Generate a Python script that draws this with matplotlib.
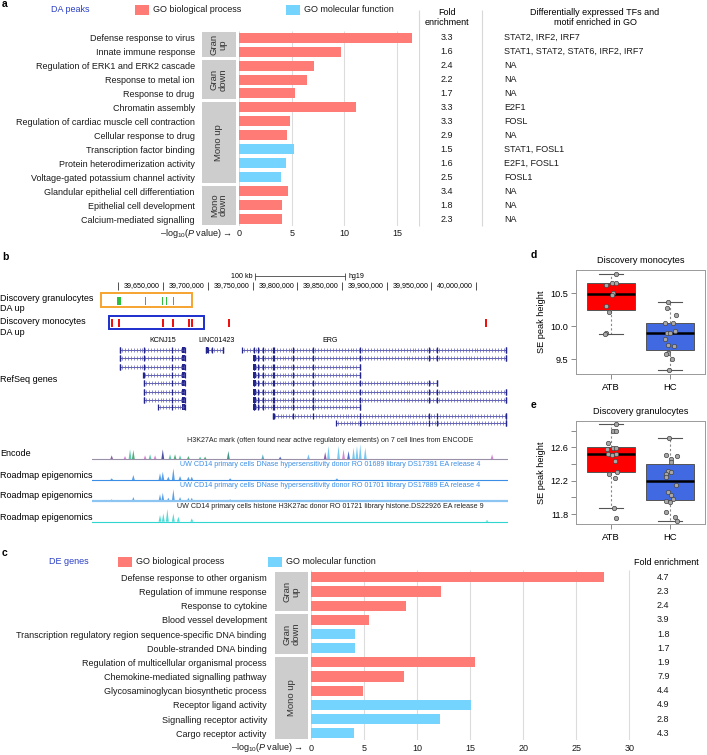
import numpy as np
import matplotlib.pyplot as plt
from matplotlib.patches import Rectangle, Polygon
from matplotlib.transforms import offset_copy

plt.rcParams['font.family'] = ['Liberation Sans', 'DejaVu Sans']
plt.rcParams['mathtext.fontset'] = 'custom'
plt.rcParams['mathtext.rm'] = 'Liberation Sans'
plt.rcParams['mathtext.it'] = 'Liberation Sans:italic'

W, H = 707, 755
RED = '#ff7b76'
BLUE = '#75d4fe'
GREY = '#cdcdcd'

# ---------------- panel a : DA peaks GO terms
a_terms = ["Defense response to virus", "Innate immune response",
           "Regulation of ERK1 and ERK2 cascade", "Response to metal ion",
           "Response to drug", "Chromatin assembly",
           "Regulation of cardiac muscle cell contraction", "Cellular response to drug",
           "Transcription factor binding", "Protein heterodimerization activity",
           "Voltage-gated potassium channel activity",
           "Glandular epithelial cell differentiation", "Epithelial cell development",
           "Calcium-mediated signalling"]
a_logp = [16.4, 9.7, 7.15, 6.45, 5.3, 11.1, 4.8, 4.6, 5.2, 4.45, 3.95, 4.65, 4.1, 4.08]
a_type = ["BP"] * 8 + ["MF"] * 3 + ["BP"] * 3
a_fold = ["3.3", "1.6", "2.4", "2.2", "1.7", "3.3", "3.3", "2.9", "1.5", "1.6", "2.5",
          "3.4", "1.8", "2.3"]
a_tfs = ["STAT2, IRF2, IRF7", "STAT1, STAT2, STAT6, IRF2, IRF7", "NA", "NA", "NA", "E2F1",
         "FOSL", "NA", "STAT1, FOSL1", "E2F1, FOSL1", "FOSL1", "NA", "NA", "NA"]
a_groups = [("Gran\nup", 0, 1), ("Gran\ndown", 2, 4), ("Mono up", 5, 10), ("Mono\ndown", 11, 13)]
a_ticks = [0, 5, 10, 15]

# ---------------- panel c : DE genes GO terms
c_terms = ["Defense response to other organism", "Regulation of immune response",
           "Response to cytokine", "Blood vessel development",
           "Transcription regulatory region sequence-specific DNA binding",
           "Double-stranded DNA binding", "Regulation of multicellular organismal process",
           "Chemokine-mediated signalling pathway", "Glycosaminoglycan biosynthetic process",
           "Receptor ligand activity", "Signalling receptor activity", "Cargo receptor activity"]
c_logp = [27.65, 12.28, 8.93, 5.44, 4.15, 4.15, 15.46, 8.8, 4.9, 15.05, 12.16, 4.05]
c_type = ["BP"] * 4 + ["MF"] * 2 + ["BP"] * 3 + ["MF"] * 3
c_fold = ["4.7", "2.3", "2.4", "3.9", "1.8", "1.7", "1.9", "7.9", "4.4", "4.9", "2.8", "4.3"]
c_groups = [("Gran\nup", 0, 2), ("Gran\ndown", 3, 5), ("Mono up", 6, 11)]
c_ticks = [0, 5, 10, 15, 20, 25, 30]

# ---------------- panel b : genome browser (positions in kb, chr21 hg19)
coord_ticks = [39600, 39650, 39700, 39750, 39800, 39850, 39900, 39950, 40000]
gran_peaks = [(39599.0, 39603.3), (39629.3, 39630.5), (39649.1, 39650.3),
              (39653.5, 39654.7), (39660.9, 39662.1)]
mono_peaks = [(39591.9, 39594.1), (39600.0, 39602.2), (39648.6, 39650.8), (39660.4, 39662.6),
              (39677.7, 39679.9), (39681.7, 39683.9), (39722.7, 39724.9), (40009.9, 40012.1)]
gran_box = (39580.3, 39682.8)
mono_box = (39590.0, 39696.3)

kcnj15_exons = [39601.9, 39628.7, 39660.1]
kcnj15_cds = (39671.3, 39674.6)
kcnj15_tx = [(39601.9, 39674.6), (39601.9, 39674.6), (39601.9, 39674.6), (39628.0, 39674.6),
             (39628.7, 39674.6), (39628.7, 39674.6), (39628.7, 39674.6), (39644.4, 39674.6)]
linc_tx = (39698.1, 39717.5)
linc_exons = [39698.1, 39700.0, 39705.0, 39717.5]
erg_exons = [39752.1, 39756.6, 39762.2, 39772.7, 39774.2, 39795.4, 39817.5, 39869.6,
             39946.8, 39955.9, 40033.3]
erg_cds = (39750.2, 39754.2)
erg_tx = [(39738.7, 40033.3), (39751.8, 40033.3), (39751.8, 39869.6), (39751.8, 39869.6),
          (39751.8, 39955.9), (39751.8, 40033.3), (39751.8, 40033.3), (39751.8, 39869.6),
          (39772.7, 40033.3), (39843.2, 40033.3)]

enc_pos = [39592.6, 39607.5, 39613.1, 39616.8, 39629.9, 39635.5, 39641.1, 39649.7, 39657.8,
           39663.4, 39669.0, 39678.3, 39691.4, 39697.0, 39723.0, 39761.5, 39780.9, 39812.5,
           39831.2, 39834.9, 39846.1, 39851.7, 39857.3, 39862.9, 39866.7, 39870.4, 39876.0,
           40017.7]
enc_h = [4, 3.3, 10, 9.3, 4, 5, 4, 10, 5, 5, 4, 3.3, 2.7, 2.7, 8.3, 5, 2.7, 5,
         7.3, 13.3, 13.3, 10, 8.3, 11.7, 13.3, 15, 11.7, 5]
enc_col = ['#7b3fa0', '#d070d0', '#40c0a0', '#30a060', '#d070d0', '#40c0a0', '#d070d0',
           '#303090', '#40c0a0', '#30a060', '#40c0a0', '#30a060', '#40c0a0', '#30a060',
           '#208070', '#40a0c0', '#3050c0', '#60b0f0', '#7b3fa0', '#60c0f0', '#60c0f0',
           '#d070d0', '#3050c0', '#60c0f0', '#60c0f0', '#60c0f0', '#60c0f0', '#d070d0']
dnase1_pos = [39592.6, 39616.8, 39646.6, 39649.7, 39655.9, 39661.5, 39669.0, 39678.3,
              39682.1, 39725.0, 39844.3]
dnase1_h = [1.7, 5, 6.7, 8.3, 3.3, 11.7, 4, 3.3, 3.3, 1.7, 1.7]
dnase2_pos = [39592.6, 39616.8, 39646.6, 39649.7, 39655.9, 39661.5, 39669.0, 39678.3,
              39682.1, 39725.0]
dnase2_h = [1.7, 4, 6.7, 8.3, 3.3, 11.7, 4, 3.3, 3.3, 1.7]
hist_pos = [39646.6, 39650.3, 39654.8, 39661.5, 39667.1, 39682.1, 40012.1]
hist_h = [6.7, 8.3, 12.7, 8.3, 5, 3.3, 1.7]

# ---------------- panels d, e : SE peak height
d_atb = [10.79, 10.66, 10.66, 10.62, 10.51, 10.47, 10.31, 10.22, 9.90, 9.88]
d_atb_jit = [0.095, 0.028, 0.084, -0.084, 0.039, 0.017, -0.084, -0.028, -0.073, -0.1]
d_hc = [10.36, 10.27, 10.17, 10.05, 10.05, 9.92, 9.90, 9.89, 9.80, 9.71, 9.70, 9.585, 9.57,
        9.50, 9.33]
d_hc_jit = [-0.039, -0.05, 0.1, -0.095, 0.045, 0.084, -0.056, 0.0, -0.084, -0.039, 0.056,
            -0.039, -0.078, 0.034, -0.028]
e_atb = [12.88, 12.80, 12.80, 12.65, 12.58, 12.59, 12.59, 12.52, 12.51, 12.52, 12.44,
         12.28, 12.31, 12.23, 11.87, 11.75]
e_atb_jit = [0.095, 0.039, 0.084, -0.045, -0.061, 0.039, 0.095, -0.045, 0.028, 0.084,
             0.067, -0.028, 0.106, 0.073, 0.056, 0.095]
e_hc = [12.71, 12.51, 12.50, 12.46, 12.42, 12.32, 12.28, 12.30, 12.24, 12.15, 12.06,
        12.03, 11.98, 11.96, 11.95, 11.83, 11.77, 11.72]
e_hc_jit = [-0.022, -0.078, 0.112, 0.006, 0.017, -0.039, -0.067, 0.006, -0.078, 0.1,
            -0.039, 0.017, 0.045, -0.067, -0.011, -0.078, 0.073, 0.117]

fig = plt.figure(figsize=(W / 100, H / 100), dpi=100)


def box(x0, y0, x1, y1, **kw):
    return fig.add_axes([x0 / W, 1 - y1 / H, (x1 - x0) / W, (y1 - y0) / H], **kw)


ov = box(0, 0, W, H)
ov.set_xlim(0, W)
ov.set_ylim(H, 0)
ov.axis('off')

FS = 6.5  # main text size


def go_bars(ax, terms, vals, kinds, ticks, xmax, xpad):
    n = len(terms)
    ypos = np.arange(n)
    ax.barh(ypos, vals, height=0.72, color=[RED if k == "BP" else BLUE for k in kinds], zorder=2)
    ax.vlines(ticks, -0.5, n - 0.5, color='#dcdcdc', lw=0.8, zorder=1)
    ax.set_xlim(0, xmax)
    ax.set_ylim(n - 0.5, -0.5)
    ax.set_yticks(ypos, terms, fontsize=FS, color='#1a1a1a')
    ax.set_xticks(ticks, [str(t) for t in ticks], fontsize=FS, color='#1a1a1a')
    ax.tick_params(axis='y', length=0, pad=31.8)
    ax.tick_params(axis='x', length=0, pad=xpad)
    for s in ax.spines.values():
        s.set_visible(False)


def go_groups(ax, groups):
    for label, r0, r1 in groups:
        ax.add_patch(Rectangle((0, r0 - 0.4), 1, r1 - r0 + 0.8, color=GREY, lw=0))
        ax.text(0.5, (r0 + r1) / 2, label, rotation=90, ha='center', va='center',
                fontsize=6.8, linespacing=1.0, color='#333')
    ax.set_xlim(0, 1)
    ax.axis('off')


def legend_row(y, title, xt, xr, xb):
    ov.text(xt, y, title, color='#2b3fc6', fontsize=FS, va='center')
    ov.add_patch(Rectangle((xr, y - 5), 14, 10, color=RED, lw=0))
    ov.text(xr + 18, y, "GO biological process", fontsize=FS, va='center', color='#1a1a1a')
    ov.add_patch(Rectangle((xb, y - 5), 14, 10, color=BLUE, lw=0))
    ov.text(xb + 18, y, "GO molecular function", fontsize=FS, va='center', color='#1a1a1a')


XLAB = '–log$_{10}$($\\mathit{P}$ value) →'

# ---- panel a
ov.text(2, 4, 'a', fontsize=7.5, fontweight='bold', va='center')
legend_row(10, "DA peaks", 51, 135, 286)
ax_a = box(239, 30.7, 419.2, 226)
go_bars(ax_a, a_terms, a_logp, a_type, a_ticks, 17.1, 2.2)
go_groups(box(201.7, 30.7, 236, 226, sharey=ax_a), a_groups)
ov.text(232, 233.5, XLAB, fontsize=FS, ha='right', va='center', color='#1a1a1a')
ov.vlines([419, 482], 10, 226, color='#d8d8d8', lw=0.8)
ov.text(447, 17.5, "Fold\nenrichment", fontsize=FS, ha='center', va='center', linespacing=1.15)
ov.text(595, 17.5, "Differentially expressed TFs and\nmotif enriched in GO", fontsize=FS,
        ha='center', va='center', linespacing=1.15)
tab_a = box(419, 30.7, 707, 226, sharey=ax_a)
tab_a.set_xlim(0, 288)
tab_a.axis('off')
for i in range(len(a_fold)):
    tab_a.text(28, i, a_fold[i], fontsize=FS, ha='center', va='center', color='#1a1a1a')
    tab_a.text(85, i, a_tfs[i], fontsize=FS, ha='left', va='center', color='#1a1a1a')

# ---- panel c
ov.text(2, 553, 'c', fontsize=7.5, fontweight='bold', va='center')
legend_row(561.7, "DE genes", 49, 118.3, 268.3)
ax_c = box(311, 570.2, 631.4, 740.4)
go_bars(ax_c, c_terms, c_logp, c_type, c_ticks, 30.2, 2.6)
go_groups(box(275, 570.2, 308.3, 740.4, sharey=ax_c), c_groups)
ov.text(303, 748, XLAB, fontsize=FS, ha='right', va='center', color='#1a1a1a')
ov.text(666.7, 562.7, "Fold enrichment", fontsize=FS, ha='center', va='center')
tab_c = box(631.4, 570.2, 707, 740.4, sharey=ax_c)
tab_c.set_xlim(631.4, 707)
tab_c.axis('off')
for i in range(len(c_fold)):
    tab_c.text(663.3, i, c_fold[i], fontsize=FS, ha='center', va='center', color='#1a1a1a')

# ---- panel b
ov.text(2, 257, 'b', fontsize=7.5, fontweight='bold', va='center')
bx = box(92, 265, 508, 530)
bx.set_xlim(39570.6, 40035.5)
bx.set_ylim(530, 265)
bx.axis('off')
left = offset_copy(bx.transData, fig=fig, x=-3, y=0, units='dots')
right = offset_copy(bx.transData, fig=fig, x=3, y=0, units='dots')
SB = 5.1  # browser text size

# scale bar and coordinates
bx.plot([39753.3, 39853.6], [276, 276], color='#444', lw=0.6)
bx.vlines([39753.3, 39853.6], 272.5, 279.5, color='#444', lw=0.6)
bx.text(39753.3, 276, "100 kb", transform=left, fontsize=SB, ha='right', va='center')
bx.text(39853.6, 276, "hg19", transform=right, fontsize=SB, ha='left', va='center')
bx.vlines(coord_ticks, 281.5, 290, color='#333', lw=0.6)
for t in coord_ticks[1:]:
    bx.text(t, 286, f"{t * 1000:,}", transform=left, fontsize=SB, ha='right', va='center')

# DA peaks
for s, e in gran_peaks:
    bx.add_patch(Rectangle((s, 297), e - s, 8, color='#2fbf3f', lw=0))
for s, e in mono_peaks:
    bx.add_patch(Rectangle((s, 318.7), e - s, 8, color='#f01010', lw=0))
bx.add_patch(Rectangle((gran_box[0], 293.3), gran_box[1] - gran_box[0], 14,
                       fill=False, ec='#f5a430', lw=1.4))
bx.add_patch(Rectangle((mono_box[0], 316), mono_box[1] - mono_box[0], 13.3,
                       fill=False, ec='#1c2fcc', lw=1.4))

# RefSeq genes
GENE = '#23238e'


def transcript(s, e, y, exons, cds):
    bx.plot([s, e], [y, y], color='#4a4aa8', lw=0.6)
    marks = np.arange(s + 2, e - 1, 3.3)
    bx.plot(marks, np.full(len(marks), y), ls='none', marker='|', ms=2.2, mew=0.5,
            color='#6060b8')
    ex = [x for x in exons if s - 0.5 <= x <= e + 0.5]
    bx.vlines(ex + [s, e], y - 3, y + 3, color=GENE, lw=0.9)
    if cds is not None and s <= cds[1]:
        bx.add_patch(Rectangle((cds[0], y - 3), cds[1] - cds[0], 6, color=GENE, lw=0))


rows = [350, 358.3, 366.7, 375, 383.3, 391.7, 400, 407.3, 415.7, 423.3]
for k, (s, e) in enumerate(kcnj15_tx):
    transcript(s, e, rows[k], kcnj15_exons, kcnj15_cds)
transcript(linc_tx[0], linc_tx[1], rows[0], linc_exons, (linc_tx[0], linc_tx[0] + 2.5))
for k, (s, e) in enumerate(erg_tx):
    transcript(s, e, rows[k], erg_exons, erg_cds if k > 0 and s < 39760 else None)
bx.text(39650.1, 341, "KCNJ15", fontsize=SB, ha='center', va='center')
bx.text(39710.1, 341, "LINC01423", fontsize=SB, ha='center', va='center')
bx.text(39836.8, 341, "ERG", fontsize=SB, ha='center', va='center')


def signal(pos, hts, base, cols, basecol, blw=0.8):
    bx.plot([39570.6, 40035.5], [base, base], color=basecol, lw=blw)
    for p, h, c in zip(pos, hts, cols):
        bx.add_patch(Polygon([(p - 1.6, base), (p, base - h), (p + 1.6, base)],
                             closed=True, color=c, lw=0, alpha=0.85))


signal(enc_pos, enc_h, 459.3, enc_col, '#9a90a8')
signal(dnase1_pos, dnase1_h, 480, ['#3a8ee6'] * len(dnase1_pos), '#3a8ee6')
signal(dnase2_pos, dnase2_h, 501, ['#3a8ee6'] * len(dnase2_pos), '#8cc4f2', 1.6)
signal(hist_pos, hist_h, 521.7, ['#2fd6d0'] * len(hist_pos), '#2fd6d0')
bx.text(39836.8, 440.7, "H3K27Ac mark (often found near active regulatory elements) on 7 cell lines from ENCODE",
        fontsize=SB, ha='center', va='center', color='#222')
bx.text(39836.8, 465, "UW CD14 primary cells DNase hypersensitivity donor RO 01689 library DS17391 EA release 4",
        fontsize=SB, ha='center', va='center', color='#3a8ee6')
bx.text(39836.8, 485.7, "UW CD14 primary cells DNase hypersensitivity donor RO 01701 library DS17889 EA release 4",
        fontsize=SB, ha='center', va='center', color='#3a8ee6')
bx.text(39836.8, 506, "UW CD14 primary cells histone H3K27ac donor RO 01721 library histone.DS22926 EA release 9",
        fontsize=SB, ha='center', va='center', color='#222')

ov.text(0, 303.5, "Discovery granulocytes\nDA up", fontsize=FS, va='center', linespacing=1.2)
ov.text(0, 327, "Discovery monocytes\nDA up", fontsize=FS, va='center', linespacing=1.2)
ov.text(0, 380, "RefSeq genes", fontsize=FS, va='center')
ov.text(0, 454, "Encode", fontsize=FS, va='center')
for y in [476, 496, 517]:
    ov.text(0, y, "Roadmap epigenomics", fontsize=FS, va='center')


# ---- panels d, e
def se_box(ax, atb, atb_j, hc, hc_j, ylim, ticks, labels, title):
    bp = ax.boxplot([atb, hc], positions=[1, 2], widths=0.8, patch_artist=True,
                    showfliers=False, capwidths=0.4,
                    medianprops=dict(color='black', lw=1.8),
                    whiskerprops=dict(color='#888', lw=0.8, ls=(0, (2, 2))),
                    capprops=dict(color='#555', lw=0.8),
                    boxprops=dict(ec='#555', lw=0.7))
    for patch, col in zip(bp['boxes'], ['#ff0000', '#4169e1']):
        patch.set_facecolor(col)
    ax.scatter(1 + np.array(atb_j), atb, s=10, c='#a8a8a8', edgecolors='#444', lw=0.5, zorder=3)
    ax.scatter(2 + np.array(hc_j), hc, s=10, c='#a8a8a8', edgecolors='#444', lw=0.5, zorder=3)
    ax.set_xlim(0.42, 2.58)
    ax.set_ylim(*ylim)
    ax.set_xticks([1, 2], ["ATB", "HC"], fontsize=6.8)
    ax.set_yticks(ticks, labels, fontsize=6.6)
    ax.tick_params(length=3.6, pad=1.8, color='#777', width=0.6)
    ax.tick_params(axis='x', pad=3)
    for s in ax.spines.values():
        s.set_color('#999')
        s.set_linewidth(0.7)
    ax.set_ylabel("SE peak height", fontsize=6.6, labelpad=3)
    ax.set_title(title, fontsize=6.6, pad=5)


ax_d = box(576, 270, 705, 374.3)
se_box(ax_d, d_atb, d_atb_jit, d_hc, d_hc_jit, (9.268, 10.853), [9.5, 10.0, 10.5],
       ["9.5", "10.0", "10.5"], "Discovery monocytes")
ax_e = box(576, 420.7, 705, 524)
se_box(ax_e, e_atb, e_atb_jit, e_hc, e_hc_jit, (11.68, 12.92),
       [11.8, 12.0, 12.2, 12.4, 12.6, 12.8], ["11.8", "", "12.2", "", "12.6", ""],
       "Discovery granulocytes")
ov.text(531, 255, 'd', fontsize=7.5, fontweight='bold', va='center')
ov.text(531, 405.5, 'e', fontsize=7.5, fontweight='bold', va='center')

fig.savefig("out.png", dpi=100)
